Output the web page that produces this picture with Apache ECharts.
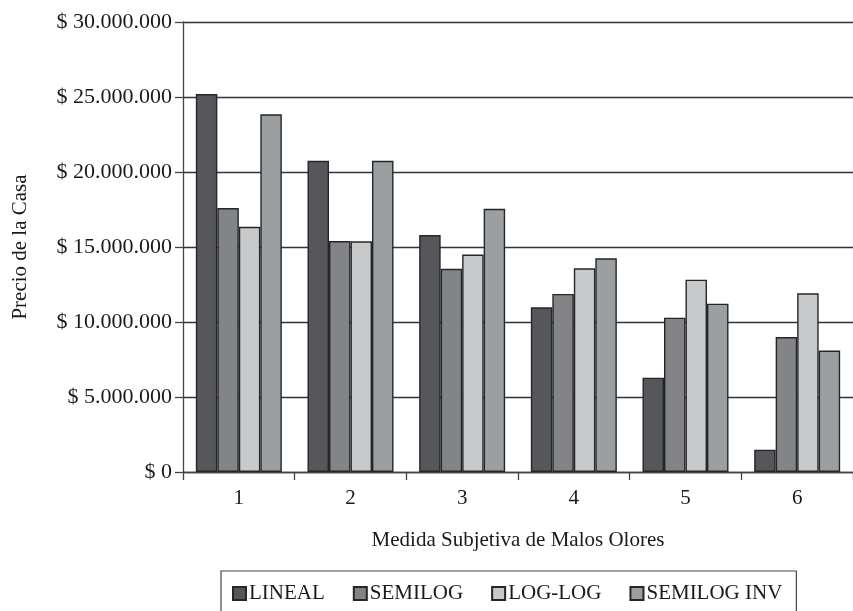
<!DOCTYPE html>
<html>
<head>
<meta charset="utf-8">
<script src="https://cdn.jsdelivr.net/npm/echarts@6/dist/echarts.min.js"></script>
<style>
  html, body { margin: 0; padding: 0; background: #ffffff; }
  #chart { width: 853px; height: 611px; }
</style>
</head>
<body>
<div id="chart"></div>
<script>
const categories = ['1', '2', '3', '4', '5', '6'];
const seriesNames = ['LINEAL', 'SEMILOG', 'LOG-LOG', 'SEMILOG INV'];
const lineal     = [25200000, 20750000, 15800000, 10980000, 6290000, 1490000];
const semilog    = [17600000, 15400000, 13550000, 11870000, 10290000, 9000000];
const logLog     = [16350000, 15380000, 14500000, 13580000, 12820000, 11910000];
const semilogInv = [23850000, 20750000, 17550000, 14250000, 11220000, 8100000];
const yTicks = [0, 5000000, 10000000, 15000000, 20000000, 25000000, 30000000];

const seriesData = [lineal, semilog, logLog, semilogInv];
const colors = ['#56575b', '#838487', '#c8c9cb', '#9c9fa2'];
const FONT = '"Liberation Serif", "Times New Roman", serif';

function fmt(v) {
  return '$ ' + String(Math.round(v)).replace(/\B(?=(\d{3})+(?!\d))/g, '.');
}

const chart = echarts.init(document.getElementById('chart'), null, { renderer: 'canvas' });
chart.setOption({
  animation: false,
  backgroundColor: '#ffffff',
  textStyle: { fontFamily: FONT, color: '#1a1a1a' },
  grid: { left: 183, top: 22, width: 676, height: 450, containLabel: false },
  legend: {
    data: seriesNames,
    left: 221, top: 571,
    orient: 'horizontal',
    icon: 'rect',
    itemWidth: 13, itemHeight: 13,
    itemGap: 28,
    padding: [12, 14, 20, 11],
    borderColor: '#444',
    borderWidth: 1.2,
    textStyle: { fontFamily: FONT, fontSize: 21, color: '#1a1a1a', padding: [0, 0, 0, -2] }
  },
  xAxis: {
    type: 'category',
    data: categories,
    name: 'Medida Subjetiva de Malos Olores',
    nameLocation: 'middle',
    nameGap: 58,
    nameTextStyle: { fontFamily: FONT, fontSize: 21, color: '#1a1a1a' },
    axisLine: { lineStyle: { color: '#444', width: 1.3 } },
    axisTick: { show: true, length: 8, lineStyle: { color: '#444', width: 1.3 } },
    axisLabel: { fontFamily: FONT, fontSize: 21, color: '#1a1a1a', margin: 16 },
    splitLine: { show: false }
  },
  yAxis: {
    type: 'value',
    min: yTicks[0], max: yTicks[yTicks.length - 1], interval: yTicks[1] - yTicks[0],
    name: 'Precio de la Casa',
    nameLocation: 'middle',
    nameGap: 152,
    nameTextStyle: { fontFamily: FONT, fontSize: 21, color: '#1a1a1a' },
    axisLine: { show: true, lineStyle: { color: '#444', width: 1.3 } },
    axisTick: { show: true, length: 8, lineStyle: { color: '#444', width: 1.3 } },
    axisLabel: { fontFamily: FONT, fontSize: 22, color: '#1a1a1a', margin: 11, formatter: fmt },
    splitLine: { show: true, lineStyle: { color: '#333', width: 1.4 } }
  },
  series: seriesNames.map((name, i) => ({
    name: name,
    type: 'bar',
    data: seriesData[i],
    barGap: '0%',
    barCategoryGap: '23%',
    itemStyle: { color: colors[i], borderColor: '#262626', borderWidth: 1.4 }
  }))
});
</script>
</body>
</html>
